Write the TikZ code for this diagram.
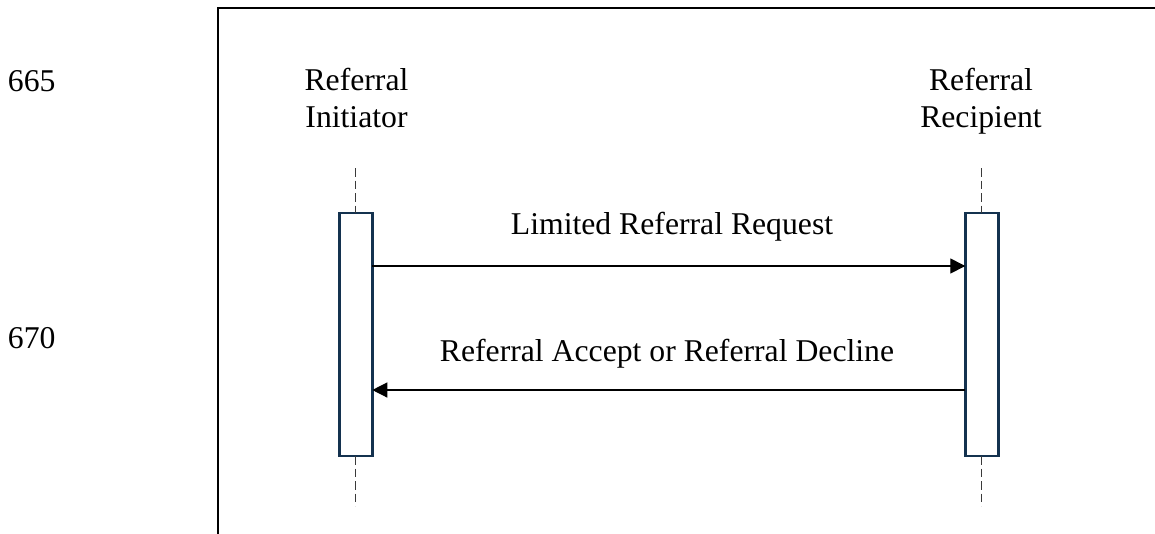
\documentclass[tikz,border=0pt]{standalone}
\usepackage{fontspec}
\setmainfont{Liberation Serif}
\usetikzlibrary{arrows.meta}
\definecolor{lifenavy}{HTML}{14324F}
\definecolor{dashgray}{HTML}{3A3A3A}
\tikzset{
  every node/.style={inner sep=0pt, outer sep=0pt},
  txt/.style={font=\fontsize{31.7}{36.3}\selectfont, align=center, anchor=base},
  linenum/.style={font=\fontsize{31.7}{36}\selectfont, anchor=base west},
  actbox/.style={draw=lifenavy, line width=2.6pt, fill=white,
    minimum width=33pt, minimum height=243pt},
  lifeline/.style={draw=dashgray, line width=1.3pt, dash pattern=on 8.5pt off 4pt},
  msg/.style={draw=black, line width=1.3pt,
    -{Triangle[length=15pt, width=15pt]}},
  frameline/.style={draw=black, line width=2pt}
}
\begin{document}
\begin{tikzpicture}[x=1pt, y=1pt]
  \useasboundingbox (0,0) rectangle (1155,-533);

  % outer frame (left and top edges)
  \draw[frameline] (218,-540) -- (218,-8) -- (1160,-8);

  % line numbers
  \node[linenum] (n665) at (8,-91) {665};
  \node[linenum] (n670) at (8,-348) {670};

  % participants (anchor is the baseline of the second line)
  \node[txt] (pinit) at (356.5,-127) {Referral\\Initiator};
  \node[txt] (precp) at (981,-127) {Referral\\Recipient};

  % lifeline ends
  \coordinate (itop) at (355.8,-168);
  \coordinate (ibot) at (355.8,-506);
  \coordinate (rtop) at (981.8,-168);
  \coordinate (rbot) at (981.8,-506);

  % activation boxes
  \node[actbox] (ibox) at (355.8,-334.5) {};
  \node[actbox] (rbox) at (981.8,-334.5) {};

  % dashed lifelines
  \draw[lifeline] (itop) -- (ibox.north);
  \draw[lifeline] (ibox.south) -- (ibot);
  \draw[lifeline] (rtop) -- (rbox.north);
  \draw[lifeline] (rbox.south) -- (rbot);

  % message anchors
  \coordinate (m1) at (0,-266);
  \coordinate (m2) at (0,-390);

  % messages
  \draw[msg] (ibox.east |- m1) -- (rbox.west |- m1);
  \node[txt] (lreq) at (672,-234) {Limited Referral Request};

  \draw[msg] (rbox.west |- m2) -- (ibox.east |- m2);
  \node[txt] (lresp) at (667,-361.7) {Referral Accept or Referral Decline};
\end{tikzpicture}
\end{document}
